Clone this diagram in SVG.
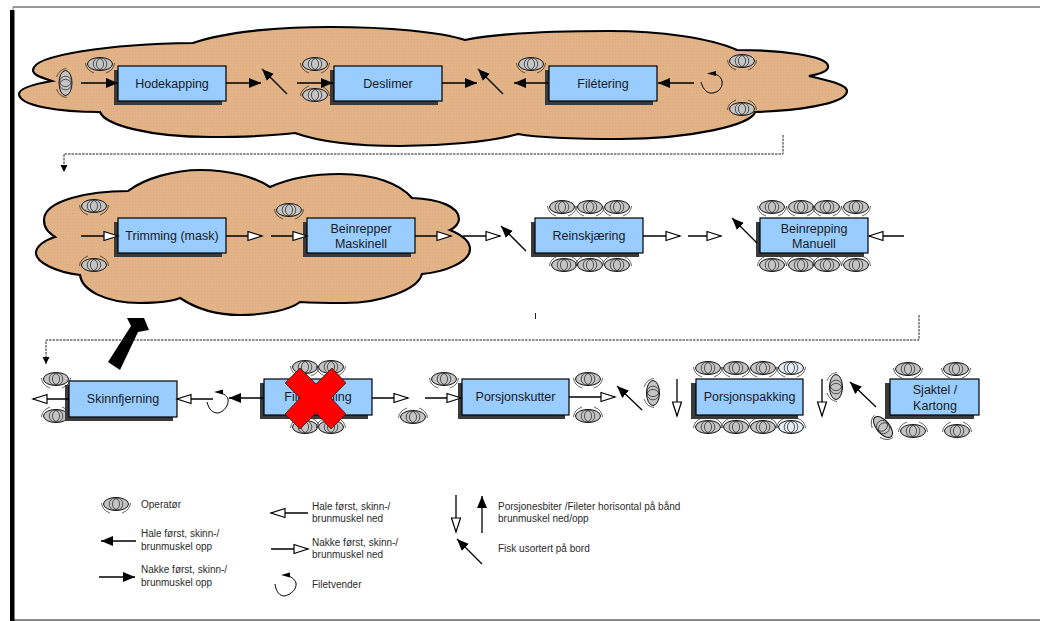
<svg xmlns="http://www.w3.org/2000/svg" width="1040" height="621" viewBox="0 0 1040 621">
<style>
text{font-family:"Liberation Sans",Arial,sans-serif;fill:#1a1a24}
.t{font-size:12.5px;text-anchor:middle}
.l{font-size:10px;fill:#2a2a2a}
.cloud{fill:url(#weave);stroke:#000;stroke-width:2.2;stroke-linejoin:miter}
.box{fill:#99ccff;stroke:#000;stroke-width:1.2}
.sh{fill:#3a3a3a}
.op{fill:#c4c4c4}
.lt{fill:#e2ebf6}
.a{stroke:#000;stroke-width:1.3;fill:none}
.v{stroke:#000;stroke-width:1;fill:none}
.s{marker-end:url(#solid)}
.o{marker-end:url(#open)}
.d{stroke:#222;stroke-width:1;fill:none;stroke-dasharray:2.5 1}
</style>
<defs>
<pattern id="weave" width="3" height="3" patternUnits="userSpaceOnUse"><rect width="3" height="3" fill="#e1b387"/><rect width="1" height="1" fill="#d8aa7e"/></pattern>
<marker id="solid" markerUnits="userSpaceOnUse" markerWidth="14" markerHeight="12" refX="12" refY="5" orient="auto"><path d="M0 0L12 5L0 10Z" fill="#000"/></marker>
<marker id="open" markerUnits="userSpaceOnUse" markerWidth="18" markerHeight="14" refX="15" refY="6" orient="auto"><path d="M1 1.500L15 6L1 10.500Z" fill="#fff" stroke="#000" stroke-width="1.200"/></marker>
<marker id="dh" markerUnits="userSpaceOnUse" markerWidth="9" markerHeight="9" refX="7" refY="4" orient="auto"><path d="M0 0.500L7 4L0 7.500Z" fill="#000"/></marker>
<g id="opd"><ellipse rx="12.500" ry="6.500" stroke="#111" stroke-width="1"/><ellipse cx="-1.600" rx="5.200" ry="5.800" fill="none" stroke="#333" stroke-width=".8"/><ellipse cx="1.600" rx="5.200" ry="5.800" fill="none" stroke="#333" stroke-width=".8"/><path d="M-14.500 -1Q-14 6-6 9M14.500 -1Q14 6 6 9" fill="none" stroke="#222" stroke-width=".7"/></g>
<g id="opu"><ellipse rx="12.500" ry="6.500" stroke="#111" stroke-width="1"/><ellipse cx="-1.600" rx="5.200" ry="5.800" fill="none" stroke="#333" stroke-width=".8"/><ellipse cx="1.600" rx="5.200" ry="5.800" fill="none" stroke="#333" stroke-width=".8"/><path d="M-14.500 1Q-14 -6-6 -9M14.500 1Q14 -6 6 -9" fill="none" stroke="#222" stroke-width=".7"/></g>
</defs>
<g id="frame">
<path d="M13 7H1040" stroke="#777" stroke-width="1.600" fill="none"/>
<path d="M13 7V10" stroke="#777" fill="none"/>
<rect x="10" y="10" width="4.500" height="611" fill="#000"/>
<path d="M14 620H1040" stroke="#111" stroke-width="1.200" fill="none"/>
</g>
<g id="cloud-1"><path class="cloud" d="M52 81C44 78 33 76 33 70C33 55 110 44 193 43C230 30 290 27 330 27C390 27 440 32 465 40C500 33 560 31 610 31C660 31 710 38 737 50C775 50 830 55 828 67C828 71 820 74 809 76C825 80 847 84 847 91C847 105 790 111 755 112C752 125 690 139 620 139C580 139 540 138 518 134C490 142 440 146 400 146C360 146 320 142 295 133C270 136 240 137 210 137C150 137 105 125 100 112C60 112 19 106 19 94C19 88 35 84 52 81Z"/></g>
<g id="cloud-2"><path class="cloud" d="M55 237C48 232 44 228 44 220C44 200 90 191 128 191C145 178 175 170 200 170C230 170 255 177 270 187C290 178 315 174 340 174C375 174 400 184 412 198C440 199 459 207 459 219C459 223 455 228 450 230C462 235 470 241 470 249C470 262 445 272 422 274C418 290 380 303 345 303C330 303 315 303 300 302C290 310 265 315 240 315C215 315 195 308 180 298C170 302 155 303 140 303C105 303 82 290 80 275C55 272 36 262 36 253C36 246 45 240 55 237Z"/></g>
<g id="operators">
<use id="op1" href="#opd" class="op" transform="translate(65.500 83) rotate(90)"/>
<use id="op2" href="#opd" class="op" x="100" y="64"/>
<use id="op3" href="#opd" class="op" x="315" y="64"/>
<use id="op4" href="#opu" class="op" x="315" y="95"/>
<use id="op5" href="#opd" class="op" x="531" y="64"/>
<use id="op6" href="#opd" class="op" x="742" y="61"/>
<use id="op7" href="#opu" class="op" x="742" y="109"/>
<use id="op8" href="#opd" class="op" x="94" y="206"/>
<use id="op9" href="#opu" class="op" x="94" y="265"/>
<use id="op10" href="#opd" class="op" x="289" y="210"/>
<use id="op11" href="#opd" class="op" x="562" y="207"/>
<use id="op12" href="#opd" class="op" x="590" y="207"/>
<use id="op13" href="#opd" class="op" x="617" y="207"/>
<use id="op14" href="#opu" class="op" x="564" y="265"/>
<use id="op15" href="#opu" class="op" x="590" y="265"/>
<use id="op16" href="#opu" class="op" x="617" y="265"/>
<use id="op17" href="#opd" class="op" x="772" y="207"/>
<use id="op18" href="#opd" class="op" x="801" y="207"/>
<use id="op19" href="#opd" class="op" x="827" y="207"/>
<use id="op20" href="#opd" class="op" x="856" y="207"/>
<use id="op21" href="#opu" class="op" x="772" y="265"/>
<use id="op22" href="#opu" class="op" x="801" y="265"/>
<use id="op23" href="#opu" class="op" x="827" y="265"/>
<use id="op24" href="#opu" class="op" x="856" y="265"/>
<use id="op25" href="#opd" class="op" x="56" y="379"/>
<use id="op26" href="#opu" class="op" x="56" y="416"/>
<use id="op27" href="#opd" class="op" x="305" y="367"/>
<use id="op28" href="#opd" class="op" x="331" y="367"/>
<use id="op29" href="#opu" class="op" x="305" y="427"/>
<use id="op30" href="#opu" class="op" x="331" y="427"/>
<use id="op31" href="#opd" class="op" x="444" y="379"/>
<use id="op32" href="#opu" class="op" x="413" y="417"/>
<use id="op33" href="#opd" class="op" x="588" y="379"/>
<use id="op34" href="#opu" class="op" x="588" y="416"/>
<use id="op35" href="#opd" class="op" transform="translate(653 393) rotate(90)"/>
<use id="op36" href="#opd" class="op" x="708" y="368"/>
<use id="op37" href="#opd" class="op" x="736" y="368"/>
<use id="op38" href="#opd" class="op" x="763" y="368"/>
<use id="op39" href="#opd" class="lt" x="791" y="368"/>
<use id="op40" href="#opu" class="op" x="708" y="427"/>
<use id="op41" href="#opu" class="op" x="736" y="427"/>
<use id="op42" href="#opu" class="op" x="763" y="427"/>
<use id="op43" href="#opu" class="lt" x="791" y="427"/>
<use id="op44" href="#opu" class="op" transform="translate(836 387) rotate(-90)"/>
<use id="op45" href="#opd" class="op" x="908" y="369"/>
<use id="op46" href="#opd" class="op" x="956" y="369"/>
<use id="op47" href="#opu" class="op" x="913" y="431"/>
<use id="op48" href="#opu" class="op" x="957" y="431"/>
<use id="op49" href="#opd" class="op" transform="translate(883 427) rotate(50)"/>
</g>
<g id="n-hodekapping"><rect class="sh" x="114" y="70" width="108" height="35"/><rect class="box" x="118" y="66" width="108" height="35"/><text class="t" x="172" y="87.500">Hodekapping</text></g>
<g id="n-deslimer"><rect class="sh" x="330" y="70" width="108" height="35"/><rect class="box" x="334" y="66" width="108" height="35"/><text class="t" x="388" y="87.500">Deslimer</text></g>
<g id="n-filetering"><rect class="sh" x="545" y="70" width="108" height="35"/><rect class="box" x="549" y="66" width="108" height="35"/><text class="t" x="603" y="87.500">Filétering</text></g>
<g id="n-trimming"><rect class="sh" x="114" y="222" width="108" height="35"/><rect class="box" x="118" y="218" width="108" height="35"/><text class="t" x="172" y="240">Trimming (mask)</text></g>
<g id="n-beinrepper"><rect class="sh" x="303" y="222" width="108" height="35"/><rect class="box" x="307" y="218" width="108" height="35"/><text class="t" x="361" y="232.500">Beinrepper</text><text class="t" x="361" y="247.500">Maskinell</text></g>
<g id="n-reinskjaering"><rect class="sh" x="531" y="222" width="108" height="35"/><rect class="box" x="535" y="218" width="108" height="35"/><text class="t" x="589" y="240">Reinskjæring</text></g>
<g id="n-beinrepping"><rect class="sh" x="756" y="222" width="108" height="35"/><rect class="box" x="760" y="218" width="108" height="35"/><text class="t" x="814" y="232.500">Beinrepping</text><text class="t" x="814" y="247.500">Manuell</text></g>
<g id="n-skinnfjerning"><rect class="sh" x="65" y="385" width="108" height="36"/><rect class="box" x="69" y="381" width="108" height="36"/><text class="t" x="123" y="403">Skinnfjerning</text></g>
<g id="n-filetvending"><rect class="sh" x="260" y="383" width="108" height="36"/><rect class="box" x="264" y="379" width="108" height="36"/><text class="t" x="318" y="401">Filetvending</text></g>
<g id="n-porsjonskutter"><rect class="sh" x="458" y="383" width="107" height="36"/><rect class="box" x="462" y="379" width="107" height="36"/><text class="t" x="515.500" y="401">Porsjonskutter</text></g>
<g id="n-porsjonspakking"><rect class="sh" x="691" y="383" width="107" height="36"/><rect class="box" x="696" y="379" width="107" height="36"/><text class="t" x="749.500" y="401">Porsjonspakking</text></g>
<g id="n-sjaktel"><rect class="sh" x="885" y="383" width="89" height="36"/><rect class="box" x="890" y="379" width="89" height="36"/><text class="t" x="935" y="394">Sjaktel /</text><text class="t" x="935" y="409.500">Kartong</text></g>
<g id="connectors">
<path class="a s" d="M81 83H118"/><path class="a s" d="M226 83H261"/><path class="a s" d="M287 94L262 69"/><path class="a s" d="M297 83H333"/>
<path class="a s" d="M442 83H477"/><path class="a s" d="M503 94L478 69"/><path class="a s" d="M549 83H514"/><path class="a s" d="M694 83H658"/>
<path class="v" d="M701 82C703 90 708 94 713 93C719 92 723 87 722 81C721 76 716 74 712 73"/><path d="M707 73.500L716 71V76Z" fill="#000"/>
<path class="a o" d="M81 236H118"/><path class="a o" d="M226 236H262"/><path class="a o" d="M271 236H307"/><path class="a o" d="M415 236H451"/><path class="a o" d="M463 236H500"/>
<path class="a s" d="M526 251L501 226"/><path class="a o" d="M643 236H680"/><path class="a o" d="M688 236H721"/><path class="a s" d="M757 243L732 218"/><path class="a o" d="M904 236H869"/>
<path class="a o" d="M69 399H33"/><path class="a o" d="M213 399H177"/><path class="a s" d="M264 398H229"/>
<path class="v" d="M207 402C209 410 213 413 218 413C224 412 229 405 228 399C227 395 222 393 218 392"/><path d="M214 392L223 389.500V394.500Z" fill="#000"/>
<path class="a o" d="M372 398H408"/><path class="a o" d="M425 398H461"/><path class="a o" d="M569 397H615"/>
<path class="a s" d="M642 410L617 386"/><path class="a o" d="M677 379V416"/><path class="a o" d="M822 379V416"/><path class="a s" d="M876 407L850 382"/>
<path d="M108 362L120 370L138 332L149 330L144 318H127L131 326Z" fill="#000"/>
<path class="d" d="M783 135V154H64V172" marker-end="url(#dh)"/>
<path class="d" d="M919 315V340H46V364" marker-end="url(#dh)"/>
<path d="M535.500 313V319" stroke="#222" fill="none"/>
</g>
<g id="cross"><path d="M300 368L316 384L332 368L346 383L331 398L346 414L331 429L316 413L300 429L285 414L300 398L285 383Z" fill="#f00" stroke="#222" stroke-width=".8"/></g>
<g id="legend">
<use href="#opd" class="op" x="116" y="504"/>
<text class="l" x="141" y="508">Operatør</text>
<path class="a s" d="M136 541H101"/>
<text class="l" x="141" y="537">Hale først, skinn-/</text><text class="l" x="141" y="550">brunmuskel opp</text>
<path class="a s" d="M99 577H135"/>
<text class="l" x="141" y="573">Nakke først, skinn-/</text><text class="l" x="141" y="586">brunmuskel opp</text>
<path class="a o" d="M308 513H271"/>
<text class="l" x="312" y="510">Hale først, skinn-/</text><text class="l" x="312" y="522">brunmuskel ned</text>
<path class="a o" d="M271 549H308"/>
<text class="l" x="312" y="546">Nakke først, skinn-/</text><text class="l" x="312" y="558">brunmuskel ned</text>
<path class="v" d="M275 584C276 592 280 596 284 596C291 595 297 589 296 583C295 579 290 576 286 575"/><path d="M281 575L290 572.500V577.500Z" fill="#000"/>
<text class="l" x="312" y="588">Filetvender</text>
<path class="a o" d="M456 495V532"/><path class="a s" d="M482 533V496"/><path class="a s" d="M482 564L457 539"/>
<text class="l" x="498" y="510">Porsjonesbiter /Fileter horisontal på bånd</text><text class="l" x="498" y="522">brunmuskel ned/opp</text>
<text class="l" x="498" y="552">Fisk usortert på bord</text>
</g>
</svg>
